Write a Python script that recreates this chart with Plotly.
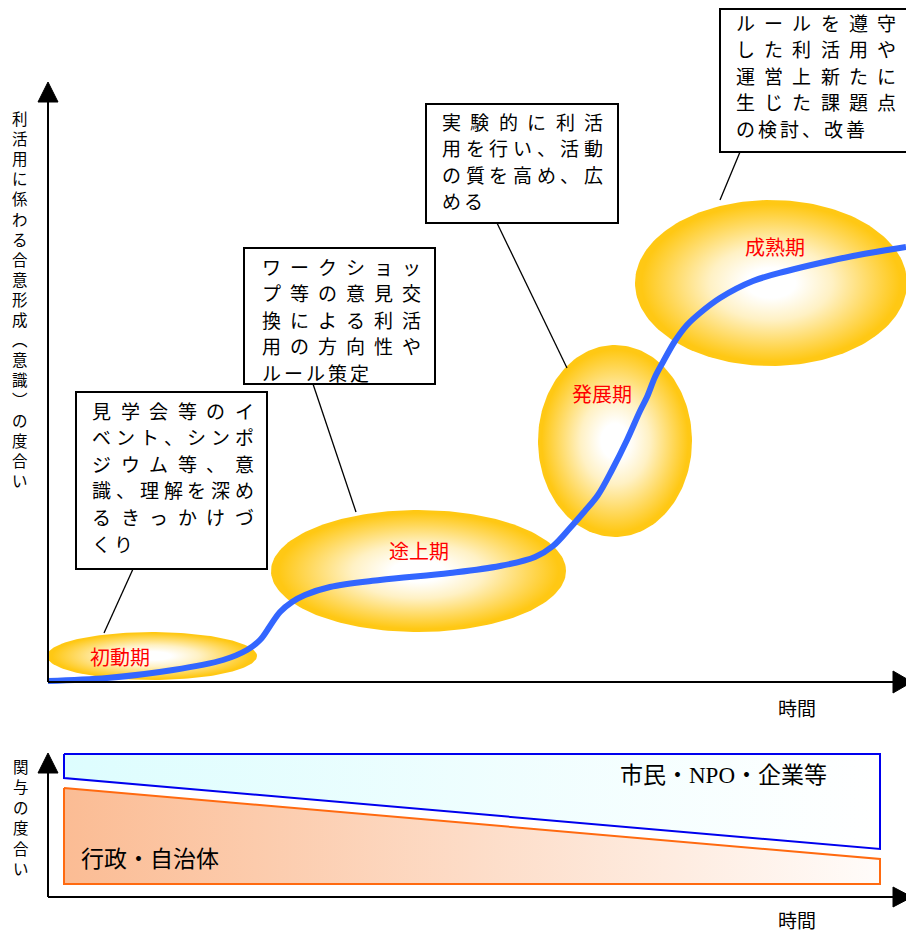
import numpy as np
import plotly.graph_objects as go

W, H = 906, 934
JP = "Noto Sans CJK JP"

# ---------------- data ----------------
stages = ["初動期", "途上期", "発展期", "成熟期"]

curve_x = [48, 107, 173, 223, 247, 260, 270, 280, 292, 305, 330, 380, 450, 500, 535,
           553, 570, 584, 598, 612, 627, 640, 647, 655, 663, 675, 687, 700, 720, 753,
           787, 820, 853, 906]
curve_y = [681, 678, 670, 660, 650, 640, 626, 612, 602, 595, 587, 580, 573, 566, 557,
           546, 528, 512, 495, 470, 440, 411, 397, 377, 362, 341, 325, 313, 298, 281,
           271, 263, 256, 247]

box_texts = [
    ["見学会等のイ", "ベント、シンポ", "ジウム等、意", "識、理解を深め", "るきっかけづ", "くり"],
    ["ワークショッ", "プ等の意見交", "換による利活", "用の方向性や", "ルール策定"],
    ["実験的に利活", "用を行い、活動", "の質を高め、広", "める"],
    ["ルールを遵守", "した利活用や", "運営上新たに", "生じた課題点", "の検討、改善"],
]

y_label_main = "利活用に係わる合意形成︵意識︶の度合い"
y_label_sub = "関与の度合い"
x_label = "時間"
actor_citizen = "市民・<span style=\"font-family:Liberation Serif\">NPO</span>・企業等"
actor_gov = "行政・自治体"

# involvement (pixel levels of the dividing lines, left -> right)
citizen_line = [778, 849]
gov_line = [788, 859]

# ---------------- geometry / style ----------------
ell_geom = [(152, 656, 105, 24), (418.5, 571, 147.5, 61), (615, 441, 77, 96), (771, 283, 136, 83)]
stage_label_pos = [(120, 656), (419, 550), (602, 393), (775, 246)]
box_rects = [(76, 392, 267, 569), (244, 248, 435, 384), (426, 104, 618, 223), (720, 9, 912, 152)]
box_text_x = [(92, 254), (262, 421), (442, 603), (736, 896)]
box_text_y0 = [410, 266, 121, 22]
LINE_DY = 26.6
connectors = [((133, 569), (104, 633)), ((313, 384), (356, 512)),
              ((497, 223), (567, 368)), ((740, 152), (720, 200))]

GOLD = "#FFC814"
BLUE = "#3366FF"

fig = go.Figure()

th = np.linspace(0, 2 * np.pi, 181)
for (cx, cy, rx, ry) in ell_geom:
    fig.add_trace(go.Scatter(
        x=cx + rx * np.cos(th), y=cy + ry * np.sin(th), mode="lines",
        line=dict(width=0, color=GOLD), fill="toself", fillcolor=GOLD,
        fillgradient=dict(type="radial",
                          colorscale=[[0, "#FFFFFF"], [0.18, "#FFFFFF"], [0.45, "#FFF1C4"],
                                      [0.75, "#FFD85A"], [0.95, GOLD], [1, GOLD]]),
        hoverinfo="skip"))

fig.add_trace(go.Scatter(x=curve_x, y=curve_y, mode="lines",
                         line=dict(color=BLUE, width=6, shape="spline", smoothing=1.0),
                         hoverinfo="skip"))

px0, px1, ptop, pbot = 64, 880, 754, 884
fig.add_trace(go.Scatter(
    x=[px0, px1, px1, px0, px0], y=[ptop, ptop, citizen_line[1], citizen_line[0], ptop],
    mode="lines", line=dict(color="#0000EE", width=2), fill="toself",
    fillgradient=dict(type="horizontal", colorscale=[[0, "#DDFDFE"], [1, "#FFFFFF"]]),
    hoverinfo="skip"))
fig.add_trace(go.Scatter(
    x=[px0, px1, px1, px0, px0], y=[gov_line[0], gov_line[1], pbot, pbot, gov_line[0]],
    mode="lines", line=dict(color="#FF6A10", width=2), fill="toself",
    fillgradient=dict(type="horizontal", colorscale=[[0, "#FBBC94"], [1, "#FFFCFA"]]),
    hoverinfo="skip"))

shapes = []
anns = []

def axis(x0, y0, x1, y1):
    shapes.append(dict(type="line", x0=x0, y0=y0, x1=x1, y1=y1,
                       line=dict(color="black", width=2), layer="above"))

def tri(path):
    shapes.append(dict(type="path", path=path, fillcolor="black",
                       line=dict(color="black", width=1), layer="above"))

axis(48, 682, 48, 100); tri("M48,82 L38,102 L58,102 Z")
axis(48, 682, 895, 682); tri("M893,671 L912,682 L893,693 Z")
axis(48, 897, 48, 772); tri("M48,753 L38,773 L58,773 Z")
axis(48, 897, 895, 897); tri("M893,887 L912,897 L893,907 Z")

for (a, b) in connectors:
    shapes.append(dict(type="line", x0=a[0], y0=a[1], x1=b[0], y1=b[1],
                       line=dict(color="black", width=1.3), layer="above"))
for (x0, y0, x1, y1) in box_rects:
    shapes.append(dict(type="rect", x0=x0, y0=y0, x1=x1, y1=y1, fillcolor="white",
                       line=dict(color="black", width=2), layer="above"))

def char(ch, x, y, size, color="black", family=JP):
    anns.append(dict(x=x, y=y, text=ch, showarrow=False, xanchor="center", yanchor="middle",
                     font=dict(family=family, size=size, color=color)))

# ---- text boxes: characters laid out one by one (justified lines) ----
FS = 19
NAT = 22
for lines, (tx0, tx1), ty0 in zip(box_texts, box_text_x, box_text_y0):
    for i, line in enumerate(lines):
        y = ty0 + i * LINE_DY
        n = len(line)
        last = i == len(lines) - 1
        pitch = NAT if (last or n < 2) else (tx1 - tx0 - FS) / (n - 1)
        for j, ch in enumerate(line):
            char(ch, tx0 + FS / 2 + j * pitch, y, FS)

for name, (lx, ly) in zip(stages, stage_label_pos):
    anns.append(dict(x=lx, y=ly, text=name, showarrow=False, xanchor="center", yanchor="middle",
                     font=dict(family=JP, size=20, color="#FF0000")))

# ---- vertical axis labels (stacked characters) ----
for i, ch in enumerate(y_label_main):
    char(ch, 20, 118 + i * 20.1, 15.5)
for i, ch in enumerate(y_label_sub):
    char(ch, 21, 766 + i * 20.4, 15.5)

for ty in (707, 919):
    anns.append(dict(x=797, y=ty, text=x_label, showarrow=False, xanchor="center", yanchor="middle",
                     borderpad=0, font=dict(family=JP, size=19, color="black")))

anns.append(dict(x=723, y=773, text=actor_citizen, showarrow=False, xanchor="center", yanchor="middle",
                 font=dict(family=JP, size=23, color="black")))
anns.append(dict(x=150, y=857, text=actor_gov, showarrow=False, xanchor="center", yanchor="middle",
                 font=dict(family=JP, size=23, color="black")))

fig.update_layout(
    width=W, height=H, margin=dict(l=0, r=0, t=0, b=0),
    paper_bgcolor="white", plot_bgcolor="white", showlegend=False,
    xaxis=dict(range=[0, W], visible=False, fixedrange=True),
    yaxis=dict(range=[H, 0], visible=False, fixedrange=True),
    shapes=shapes, annotations=anns,
)

fig.write_html("out.html", config={"displayModeBar": False})
